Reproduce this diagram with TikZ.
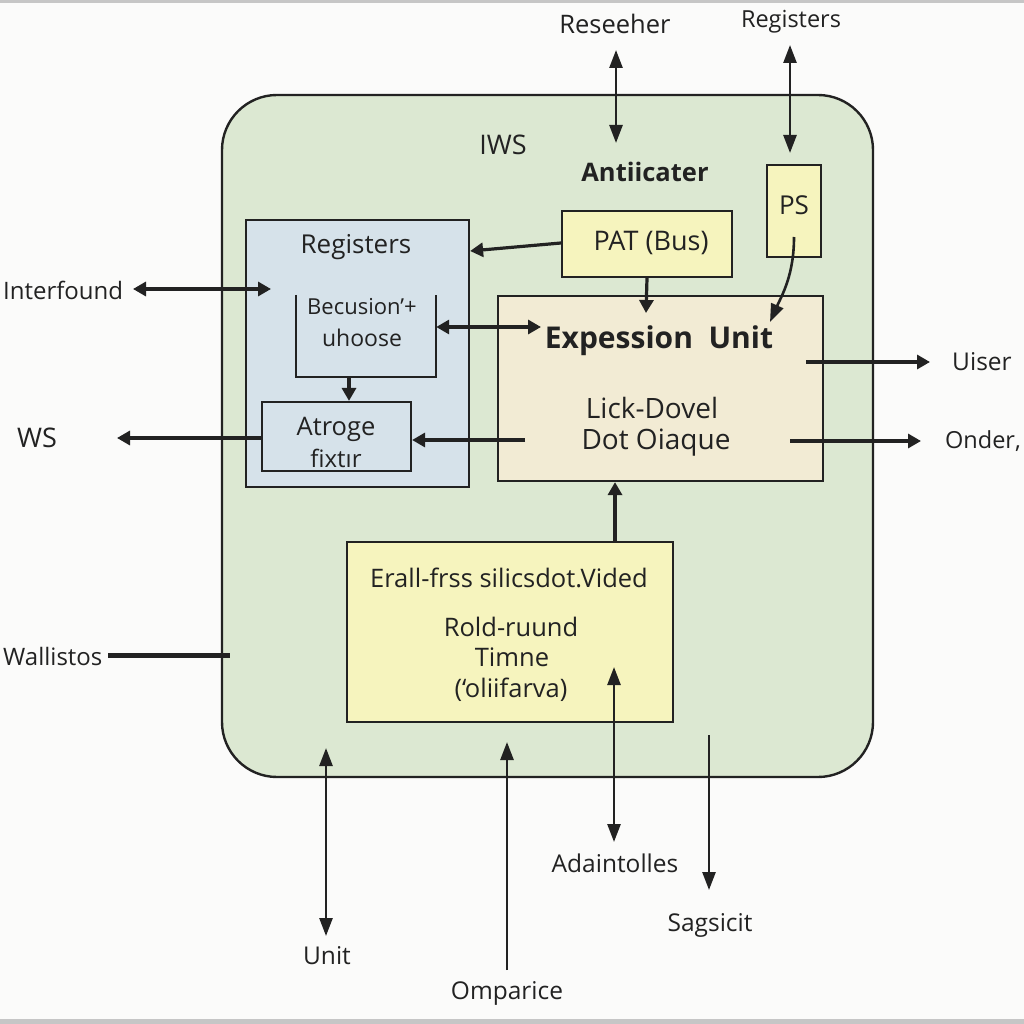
\documentclass[tikz,border=0pt]{standalone}
\usepackage{fontspec}
\setmainfont{Open Sans}
\usetikzlibrary{arrows.meta}
\definecolor{bgc}{HTML}{FBFBFA}
\definecolor{outerg}{HTML}{DCE8D2}
\definecolor{regb}{HTML}{D6E2EA}
\definecolor{beige}{HTML}{F2EBD4}
\definecolor{yel}{HTML}{F6F4BE}
\definecolor{ink}{HTML}{222222}
\newcommand{\fsz}[1]{\fontsize{#1}{#1}\selectfont}
\tikzset{
  box/.style={draw=ink, line width=2.2pt, minimum width=#1, inner sep=0pt},
  lbl/.style={font=\fsz{24.5}, text=ink, inner sep=0pt},
  conn/.style={draw=ink, line width=3.2pt, -{Triangle[length=13pt,width=14pt]}},
  conn2/.style={draw=ink, line width=3.2pt, {Triangle[length=13pt,width=14pt]}-{Triangle[length=13pt,width=14pt]}},
  thinconn/.style={draw=ink, line width=2.6pt, -{Triangle[length=18pt,width=13pt]}},
  thinconn2/.style={draw=ink, line width=2.6pt, {Triangle[length=18pt,width=13pt]}-{Triangle[length=18pt,width=13pt]}},
}
\begin{document}
\begin{tikzpicture}[x=1pt,y=-1pt]
\useasboundingbox (0,0) rectangle (1024,1024);
\clip (0,0) rectangle (1024,1024);
\fill[bgc] (0,0) rectangle (1024,1024);
\fill[gray!45] (0,0) rectangle (1024,3);
\fill[gray!45] (0,1019) rectangle (1024,1024);
% outer container
\node[draw=ink, line width=2.4pt, fill=outerg, rounded corners=55pt, minimum width=651pt, minimum height=682pt] (outer) at (547.5,436) {};
\node[lbl, font=\fsz{27}] (iws) at (503,145) {IWS};
\node[lbl, font=\fsz{25.5}\bfseries] (antii) at (645,172) {Antiicater};
% registers box
\node[box=223pt, fill=regb, minimum height=267pt] (regs) at (357.5,353.5) {};
\node[lbl, font=\fsz{26}] (regslbl) at (356,247) {Registers};
% becusion open-top box
\node[minimum width=140pt, minimum height=82pt, inner sep=0pt] (bec) at (366,336) {};
\draw[ink, line width=2.2pt] (bec.north west) -- (bec.south west) -- (bec.south east) -- (bec.north east);
\node[lbl, font=\fsz{22}] (bec1) at (362,307) {Becusion\char"0027+};
\node[lbl, font=\fsz{23}] (bec2) at (362,338) {uhoose};
% atroge box
\node[box=149pt, minimum height=69pt] (atr) at (336.5,436.5) {};
\node[lbl, font=\fsz{25.5}] (atr1) at (336,429) {Atroge};
\node[lbl, font=\fsz{24}] (atr2) at (336,458) {fixtır};
% PAT box
\node[box=170pt, fill=yel, minimum height=66pt] (pat) at (647,244) {};
\node[lbl, font=\fsz{27}] (patlbl) at (651,243) {PAT (Bus)};
% PS box
\node[box=54pt, fill=yel, minimum height=92pt] (ps) at (794,211) {};
\node[lbl, font=\fsz{26}] (pslbl) at (794,205) {PS};
% expression unit
\node[box=325pt, fill=beige, minimum height=185pt] (expr) at (660.5,388.5) {};
\node[lbl, font=\fsz{30}\bfseries] (exprlbl) at (659,341) {Expession~ Unit};
\node[lbl, font=\fsz{28}] (lick) at (652,408) {Lick-Dovel};
\node[lbl, font=\fsz{28}] (dot) at (656,443) {Dot Oiaque};
% erall box
\node[box=326pt, fill=yel, minimum height=180pt] (erall) at (510,632) {};
\node[lbl, font=\fsz{25.5}] (er1) at (509,578) {Erall-frss silicsdot.Vided};
\node[lbl, font=\fsz{25.5}] (er2) at (511,627) {Rold-ruund};
\node[lbl, font=\fsz{25.5}] (er3) at (512,657) {Timne};
\node[lbl, font=\fsz{25.5}] (er4) at (511,690) {(‘oliifarva)};
% outside labels
\node[lbl, font=\fsz{25.5}] (reseeher) at (615,24) {Reseeher};
\node[lbl, font=\fsz{23.5}] (regtop) at (791,22) {Registers};
\node[lbl, anchor=west, font=\fsz{24}] (interf) at (3,290) {Interfound};
\node[lbl, font=\fsz{27}] (ws) at (37,438) {WS};
\node[lbl, anchor=west, font=\fsz{24}] (wall) at (3,656) {Wallistos};
\node[lbl, anchor=west] (uiser) at (952,362) {Uiser};
\node[lbl, anchor=east, font=\fsz{23.5}] (onder) at (1021,441) {Onder,};
\node[lbl] (adain) at (615,863) {Adaintolles};
\node[lbl] (sag) at (710,925) {Sagsicit};
\node[lbl] (unit) at (327,956) {Unit};
\node[lbl] (ompa) at (507,993) {Omparice};
% free ends
\coordinate (rsA) at (616,50);   \coordinate (rsB) at (616,143);
\coordinate (rgA) at (790,45);   \coordinate (rgB) at (790,153);
\coordinate (ifA) at (133,289);  \coordinate (ifB) at (271,289);
\coordinate (wsA) at (117,438);
\coordinate (wlA) at (108,655);  \coordinate (wlB) at (230,655);
\coordinate (usA) at (806,362);  \coordinate (usB) at (930,362);
\coordinate (onA) at (790,441);  \coordinate (onB) at (921,441);
\coordinate (exin) at (541,327);
\coordinate (exout) at (525,440);
\coordinate (adA) at (614,667);  \coordinate (adB) at (614,842);
\coordinate (unA) at (326,748);  \coordinate (unB) at (326,936);
\coordinate (omA) at (507,970);  \coordinate (omB) at (507,742);
\coordinate (sgA) at (709,735);  \coordinate (sgB) at (709,890);
\coordinate (psA) at (794,237);  \coordinate (psB) at (770,322);
\coordinate (patin) at (646,313);
% connectors
\draw[thinconn2] (rsA) -- (rsB);
\draw[thinconn2] (rgA) -- (rgB);
\draw[conn2] (ifA) -- (ifB);
\draw[conn] (pat.west |- 0,243) -- (regs.east |- 0,251);
\draw[conn] (pat.south) -- (patin);
\draw[thinconn] (psA) .. controls (794,275) and (782,295) .. (psB);
\draw[conn2] (bec.east |- 0,327) -- (exin);
\draw[conn] (bec.south -| 349,0) -- (atr.north -| 349,0);
\draw[conn] (exout) -- (atr.east |- 0,440);
\draw[conn] (atr.west |- 0,438) -- (wsA);
\draw[ink, line width=5pt] (wlA) -- (wlB);
\draw[conn] (usA) -- (usB);
\draw[conn] (onA) -- (onB);
\draw[conn] (erall.north -| 615,0) -- (expr.south -| 615,0);
\draw[thinconn2] (adA) -- (adB);
\draw[thinconn2] (unA) -- (unB);
\draw[thinconn] (omA) -- (omB);
\draw[thinconn] (sgA) -- (sgB);
\end{tikzpicture}
\end{document}
